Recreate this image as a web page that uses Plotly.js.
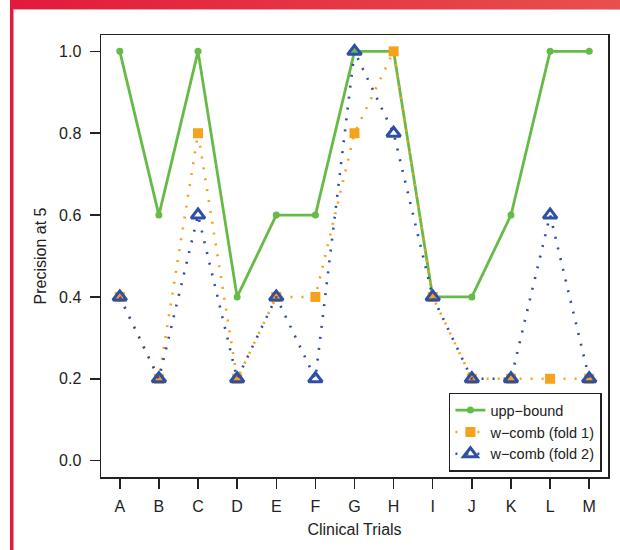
<!DOCTYPE html>
<html>
<head>
<meta charset="utf-8">
<script src="https://cdn.plot.ly/plotly-3.0.1.min.js"></script>
<style>
  html, body { margin: 0; padding: 0; background: #fff; }
  #wrap { position: relative; width: 620px; height: 550px; overflow: hidden; }
  #chart { position: absolute; left: 0; top: 0; width: 620px; height: 550px; }
  #topbar { position: absolute; left: 10px; top: 0; width: 610px; height: 9px;
            background: linear-gradient(to right, #e21a3c, #e8504c);
            border-bottom: 1px solid #f2a0a8; }
  #leftbar { position: absolute; left: 10px; top: 9px; width: 3px; height: 541px;
             background: #e21a3c; border-right: 1px solid #f08c98; }
</style>
</head>
<body>
<div id="wrap">
  <div id="chart"></div>
  <div id="topbar"></div>
  <div id="leftbar"></div>
</div>
<script>
const trials = ["A","B","C","D","E","F","G","H","I","J","K","L","M"];
const uppBound = [1.0,0.6,1.0,0.4,0.6,0.6,1.0,1.0,0.4,0.4,0.6,1.0,1.0];
const wcombFold1 = [0.4,0.2,0.8,0.2,0.4,0.4,0.8,1.0,0.4,0.2,0.2,0.2,0.2];
const wcombFold2 = [0.4,0.2,0.6,0.2,0.4,0.2,1.0,0.8,0.4,0.2,0.2,0.6,0.2];
const yTicks = [0, 0.2, 0.4, 0.6, 0.8, 1.0];
const yTickText = ["0.0","0.2","0.4","0.6","0.8","1.0"];

const traces = [
  {
    x: trials, y: uppBound, name: "upp\u2212bound", type: "scatter", mode: "lines+markers",
    line: { color: "#66bb46", width: 2.8 },
    marker: { color: "#66bb46", size: 7, symbol: "circle" }
  },
  {
    x: trials, y: wcombFold1, name: "w\u2212comb (fold 1)", type: "scatter", mode: "lines+markers",
    line: { color: "#f7a21b", width: 2.6, dash: "2px,9px" },
    marker: { color: "#f7a21b", size: 10, symbol: "square" }
  },
  {
    x: trials, y: wcombFold2, name: "w\u2212comb (fold 2)", type: "scatter", mode: "lines+markers",
    line: { color: "#2f4fa6", width: 2.6, dash: "2px,9px" },
    marker: { color: "#2f4fa6", size: 12, symbol: "triangle-up-open", line: { width: 3, color: "#2f4fa6" } }
  }
];

const layout = {
  width: 620, height: 550,
  margin: { l: 101, r: 12, t: 34.6, b: 72.6 },
  paper_bgcolor: "#ffffff", plot_bgcolor: "#ffffff",
  font: { family: "Liberation Sans, Arial, Helvetica, sans-serif", size: 16, color: "#222" },
  showlegend: true,
  legend: {
    x: 0.988, y: 0.012, xanchor: "right", yanchor: "bottom",
    bgcolor: "#ffffff", bordercolor: "#222", borderwidth: 1.5,
    font: { size: 14.5, color: "#222" }, tracegroupgap: 0
  },
  xaxis: {
    type: "category", range: [-0.48, 12.48],
    showgrid: false, zeroline: false,
    showline: true, mirror: true, linecolor: "#222", linewidth: 1.5,
    ticks: "outside", ticklen: 10, tickwidth: 1.5, tickcolor: "#222",
    ticklabelstandoff: 4,
    tickfont: { size: 16, color: "#222" },
    title: { text: "Clinical Trials", font: { size: 16, color: "#222" }, standoff: 10 }
  },
  yaxis: {
    range: [-0.04, 1.04],
    tickvals: yTicks, ticktext: yTickText,
    showgrid: false, zeroline: false,
    showline: true, mirror: true, linecolor: "#222", linewidth: 1.5,
    ticks: "outside", ticklen: 10, tickwidth: 1.5, tickcolor: "#222",
    ticklabelstandoff: 5,
    tickfont: { size: 16, color: "#222" },
    title: { text: "Precision at 5", font: { size: 16, color: "#222" }, standoff: 8 }
  }
};

Plotly.newPlot("chart", traces, layout, { displayModeBar: false, staticPlot: true });
</script>
</body>
</html>
